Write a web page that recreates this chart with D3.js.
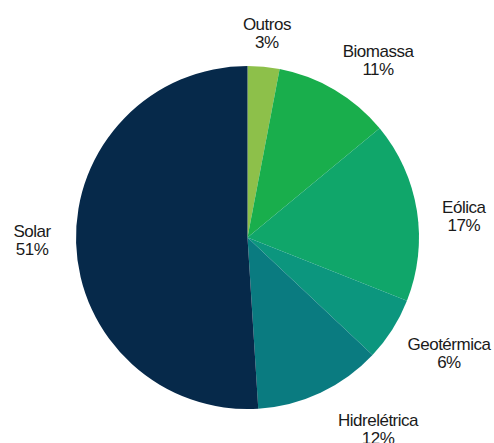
<!DOCTYPE html>
<html>
<head>
<meta charset="utf-8">
<script src="https://cdn.jsdelivr.net/npm/d3@7"></script>
<style>
  html, body { margin: 0; padding: 0; background: #ffffff; }
  svg { display: block; }
  text { font-family: "Liberation Sans", Arial, sans-serif; font-size: 17px; fill: #1a1a1a; letter-spacing: -0.5px; }
</style>
</head>
<body>
<svg id="chart" width="494" height="443"></svg>
<script>
// Energy sources and their shares (%), clockwise from 12 o'clock
const categories = ["Outros", "Biomassa", "Eólica", "Geotérmica", "Hidrelétrica", "Solar"];
const shares = [3, 11, 17, 6, 12, 51];
const colors = ["#8dc04a", "#19ae4c", "#10a66a", "#0c967e", "#0a7b80", "#06294a"];

// Small label nudges (dx, dy) from the label arc centroid
const labelNudge = [[-1.5, 13.5], [17.5, 10.5], [-3, 10], [14, -6.5], [36, -12.5], [6.5, -7.5]];

const svg = d3.select("#chart");
const cx = 247.5, cy = 237.5, radius = 171.5, labelRadius = 222, lineGap = 18;

const data = categories.map((c, i) => ({ name: c, value: shares[i], color: colors[i], nudge: labelNudge[i] }));

const pie = d3.pie().value(d => d.value).sort(null);
const arc = d3.arc().innerRadius(0).outerRadius(radius);
const labelArc = d3.arc().innerRadius(labelRadius).outerRadius(labelRadius);

const g = svg.append("g").attr("transform", `translate(${cx},${cy})`);
const arcs = pie(data);

g.selectAll("path.slice")
  .data(arcs)
  .join("path")
  .attr("class", "slice")
  .attr("d", arc)
  .attr("fill", d => d.data.color);

const labels = g.selectAll("text.label")
  .data(arcs)
  .join("text")
  .attr("class", "label")
  .attr("text-anchor", "middle")
  .attr("transform", d => {
    const [x, y] = labelArc.centroid(d);
    return `translate(${x + d.data.nudge[0]},${y + d.data.nudge[1]})`;
  });

labels.append("tspan")
  .attr("x", 0).attr("y", 0)
  .text(d => d.data.name);
labels.append("tspan")
  .attr("x", 0).attr("y", lineGap)
  .text(d => d.data.value + "%");
</script>
</body>
</html>
